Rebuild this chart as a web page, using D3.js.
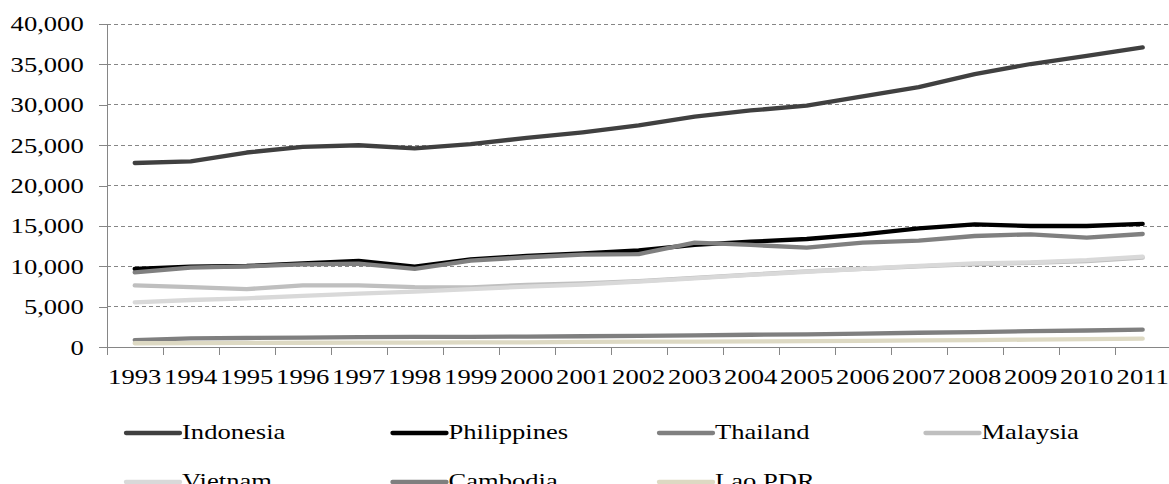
<!DOCTYPE html>
<html>
<head>
<meta charset="utf-8">
<script src="https://cdn.jsdelivr.net/npm/d3@7"></script>
<style>
  html, body { margin: 0; padding: 0; background: #fff; }
  svg { display: block; }
  text { font-family: "Liberation Serif", "Times New Roman", serif; fill: #000; }
</style>
</head>
<body>
<svg id="chart" width="1169" height="484"></svg>
<script>
// Years on the category axis
const years = ["1993","1994","1995","1996","1997","1998","1999","2000","2001","2002",
               "2003","2004","2005","2006","2007","2008","2009","2010","2011"];

// Series values, one array per country
const indonesia   = [22800, 23000, 24100, 24800, 25000, 24600, 25150, 25900, 26600, 27450,
                     28550, 29300, 29900, 31050, 32200, 33800, 35050, 36050, 37100];
const philippines = [9700, 9980, 10060, 10390, 10680, 9980, 10890, 11300, 11630, 12000,
                     12660, 13070, 13400, 13980, 14720, 15220, 15010, 15010, 15260];
const thailand    = [9280, 9850, 10000, 10270, 10350, 9700, 10720, 11140, 11460, 11540,
                     12940, 12660, 12330, 12940, 13190, 13770, 13980, 13560, 14020];
const malaysia    = [7650, 7450, 7200, 7670, 7650, 7450, 7420, 7710, 7920, 8200,
                     8600, 9000, 9400, 9700, 10000, 10300, 10450, 10650, 11100];
const vietnam     = [5570, 5850, 6060, 6350, 6630, 6880, 7210, 7500, 7750, 8120,
                     8540, 8950, 9350, 9720, 10080, 10380, 10500, 10780, 11220];
const cambodia    = [900, 1100, 1150, 1200, 1250, 1280, 1300, 1330, 1370, 1420,
                     1480, 1550, 1600, 1680, 1800, 1880, 2000, 2080, 2180];
const laoPDR      = [500, 520, 540, 560, 580, 580, 600, 620, 660, 690,
                     710, 730, 760, 800, 850, 900, 950, 1000, 1070];

const seriesNames  = ["Indonesia", "Philippines", "Thailand", "Malaysia", "Vietnam", "Cambodia", "Lao PDR"];
const seriesValues = [indonesia, philippines, thailand, malaysia, vietnam, cambodia, laoPDR];
const seriesColors = ["#404040", "#000000", "#808080", "#bfbfbf", "#d9d9d9", "#7f7f7f", "#ddd9c3"];

// Value axis ticks
const yTicks = [0, 5000, 10000, 15000, 20000, 25000, 30000, 35000, 40000];

// ---- layout ----
const W = 1169, H = 484;
const plotLeft = 106.7, plotRight = 1170.7, plotTop = 24, plotBottom = 347.3;
const textStretch = 1.33;         // glyphs are drawn horizontally widened
const fontSize = 20;
const axisColor = "#868686";

const svg = d3.select("#chart");

const x = d3.scaleBand().domain(years).range([plotLeft, plotRight]).paddingInner(0).paddingOuter(0);
const xMid = d => x(d) + x.bandwidth() / 2;
const y = d3.scaleLinear().domain([0, 40000]).range([plotBottom, plotTop]);

// dashed horizontal gridlines
svg.append("g")
  .selectAll("line")
  .data(yTicks.filter(t => t > 0))
  .join("line")
  .attr("x1", plotLeft).attr("x2", W)
  .attr("y1", d => y(d)).attr("y2", d => y(d))
  .attr("stroke", "#868686")
  .attr("stroke-width", 1)
  .attr("stroke-dasharray", "4,3")
  .attr("shape-rendering", "crispEdges");

// value axis
const yAxis = svg.append("g")
  .attr("transform", `translate(${plotLeft},0)`)
  .call(d3.axisLeft(y).tickValues(yTicks).tickSize(8).tickSizeOuter(0).tickFormat(d3.format(",")));
yAxis.select(".domain").attr("stroke", axisColor).attr("shape-rendering", "crispEdges");
yAxis.selectAll(".tick line").attr("stroke", axisColor).attr("shape-rendering", "crispEdges");
yAxis.selectAll(".tick text")
  .attr("font-size", fontSize)
  .attr("font-family", null)
  .attr("x", -23 / textStretch)
  .attr("dy", "0.34em")
  .attr("transform", `scale(${textStretch},1)`);

// category axis: tick marks on band boundaries
const edges = d3.scaleLinear().domain([0, years.length]).range([plotLeft, plotRight]);
const xTickAxis = svg.append("g")
  .attr("transform", `translate(0,${plotBottom})`)
  .call(d3.axisBottom(edges).tickValues(d3.range(years.length + 1)).tickSize(8).tickSizeOuter(0).tickFormat(""));
xTickAxis.select(".domain").attr("stroke", axisColor).attr("shape-rendering", "crispEdges");
xTickAxis.selectAll(".tick line").attr("stroke", axisColor).attr("shape-rendering", "crispEdges");

// category labels centred in each band
const xLabelAxis = svg.append("g")
  .attr("transform", `translate(0,${plotBottom})`)
  .call(d3.axisBottom(x).tickSize(0).tickPadding(0));
xLabelAxis.select(".domain").remove();
xLabelAxis.selectAll(".tick text")
  .attr("font-size", fontSize)
  .attr("font-family", null)
  .attr("y", 37)
  .attr("dy", 0)
  .attr("transform", `scale(${textStretch},1)`);

// series lines
const line = d3.line()
  .x((d, i) => xMid(years[i]))
  .y(d => y(d))
  .curve(d3.curveLinear);

svg.append("g")
  .selectAll("path")
  .data(seriesValues)
  .join("path")
  .attr("d", d => line(d))
  .attr("fill", "none")
  .attr("stroke", (d, i) => seriesColors[i])
  .attr("stroke-width", 4.3)
  .attr("stroke-linejoin", "round")
  .attr("stroke-linecap", "round");

// legend
const legendCols = 4, legendX0 = 126, legendColW = 266.5, legendY0 = 439, legendRowH = 49;
const legend = svg.append("g")
  .selectAll("g")
  .data(seriesNames)
  .join("g")
  .attr("transform", (d, i) =>
    `translate(${legendX0 + (i % legendCols) * legendColW},${legendY0 + Math.floor(i / legendCols) * legendRowH})`);

legend.append("line")
  .attr("x1", 0).attr("x2", 54)
  .attr("y1", -6).attr("y2", -6)
  .attr("stroke", (d, i) => seriesColors[i])
  .attr("stroke-width", 4.3)
  .attr("stroke-linecap", "round");

legend.append("text")
  .attr("x", 56 / textStretch)
  .attr("y", 0)
  .attr("font-size", fontSize)
  .attr("transform", `scale(${textStretch},1)`)
  .text(d => d);
</script>
</body>
</html>
